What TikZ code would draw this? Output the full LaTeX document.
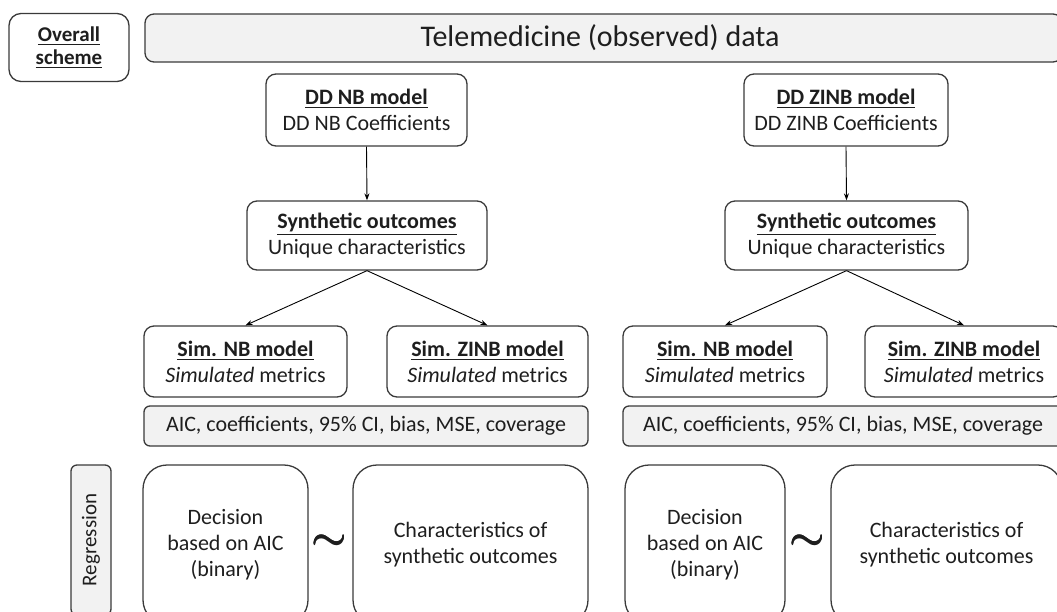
\documentclass[tikz,border=0pt]{standalone}
\usepackage{amsmath}
\usepackage{graphicx}
\usepackage{fontspec}
\setmainfont{Carlito}
\usetikzlibrary{arrows.meta}
\definecolor{edge}{HTML}{3A3A3A}
\definecolor{lightfill}{HTML}{F2F2F2}
\definecolor{txt}{HTML}{1E1E1E}
\tikzset{
  box/.style={draw=edge, line width=1.3pt, rounded corners=10pt, align=center, inner sep=0pt,
    font=\fontsize{22}{26}\selectfont, text=txt},
  graybox/.style={box, fill=lightfill, rounded corners=6pt},
  bigbox/.style={box, rounded corners=24pt},
  tilde/.style={inner sep=0pt, text=txt, font=\fontsize{24}{24}\selectfont},
  conn/.style={draw=black, line width=0.9pt, -{Stealth[length=7pt,width=5pt]}}
}
\newcommand{\bu}[1]{\underline{\textbf{#1}}}
\newcommand{\onetilde}{\scalebox{1.6}[1.4]{$\boldsymbol{\sim}$}}
\newcommand{\bigtilde}{\rlap{\raisebox{0.8pt}{\onetilde}}\rlap{\raisebox{-0.8pt}{\onetilde}}\onetilde}
\begin{document}
\begin{tikzpicture}[x=1pt,y=-1pt]
\useasboundingbox (0,0) rectangle (1057,611);
\clip (0,0) rectangle (1057,611);
% header
\node[box, rounded corners=12pt, minimum width=120pt, minimum height=68pt, font=\fontsize{21}{23}\selectfont] (scheme) at (69,47.5) {\bu{Overall}\\\bu{scheme}};
\node[graybox, rounded corners=9pt, minimum width=917pt, minimum height=48pt, font=\fontsize{30}{34}\selectfont] (banner) at (603.5,38) {\hspace{-7pt}Telemedicine (observed) data};
% left branch
\node[box, minimum width=201pt, minimum height=72pt] (ddnb) at (366.5,110) {\bu{DD NB model}\\DD NB Coefficients};
\node[box, minimum width=240pt, minimum height=69pt] (synL) at (367,235.5) {\bu{Synthetic outcomes}\\Unique characteristics};
\node[box, minimum width=203pt, minimum height=71pt] (simNBL) at (245.5,361.5) {\bu{Sim. NB model}\\\textit{Simulated} metrics};
\node[box, minimum width=201pt, minimum height=71pt] (simZL) at (487.5,361.5) {\bu{Sim. ZINB model}\\\textit{Simulated} metrics};
\node[graybox, minimum width=444pt, minimum height=40pt] (aicL) at (366,426) {AIC, coefficients, 95\% CI, bias, MSE, coverage};
% right branch
\node[box, minimum width=204pt, minimum height=72pt] (ddzinb) at (846,110) {\bu{DD ZINB model}\\DD ZINB Coefficients};
\node[box, minimum width=243pt, minimum height=69pt] (synR) at (846.5,235.5) {\bu{Synthetic outcomes}\\Unique characteristics};
\node[box, minimum width=204pt, minimum height=71pt] (simNBR) at (725,361.5) {\bu{Sim. NB model}\\\textit{Simulated} metrics};
\node[box, minimum width=198pt, minimum height=71pt] (simZR) at (964,361.5) {\bu{Sim. ZINB model}\\\textit{Simulated} metrics};
\node[graybox, minimum width=440pt, minimum height=40pt] (aicR) at (843,426) {AIC, coefficients, 95\% CI, bias, MSE, coverage};
% regression row
\node[graybox, rotate=90, minimum width=150pt, minimum height=40pt, font=\fontsize{21}{23}\selectfont] (reg) at (91,540) {Regression};
\node[bigbox, minimum width=165pt, minimum height=159pt] (decL) at (225.5,544.5) {Decision\\based on AIC\\(binary)};
\node[bigbox, minimum width=235pt, minimum height=159pt] (charL) at (470.5,544.5) {\raisebox{3pt}{\parbox{230pt}{\centering Characteristics of\\synthetic outcomes}}};
\node[tilde] (tilL) at (329,542) {\bigtilde};
\node[bigbox, minimum width=160pt, minimum height=159pt] (decR) at (705,544.5) {Decision\\based on AIC\\(binary)};
\node[bigbox, minimum width=231pt, minimum height=159pt] (charR) at (946.5,544.5) {\raisebox{3pt}{\parbox{226pt}{\centering Characteristics of\\synthetic outcomes}}};
\node[tilde] (tilR) at (807,542) {\bigtilde};
% connectors
\draw[conn] (ddnb.south) -- (synL.north);
\draw[conn] (synL.south) -- (simNBL.north);
\draw[conn] (synL.south) -- (simZL.north);
\draw[conn] (ddzinb.south) -- (synR.north);
\draw[conn] (synR.south) -- (simNBR.north);
\draw[conn] (synR.south) -- (simZR.north);
\end{tikzpicture}
\end{document}
